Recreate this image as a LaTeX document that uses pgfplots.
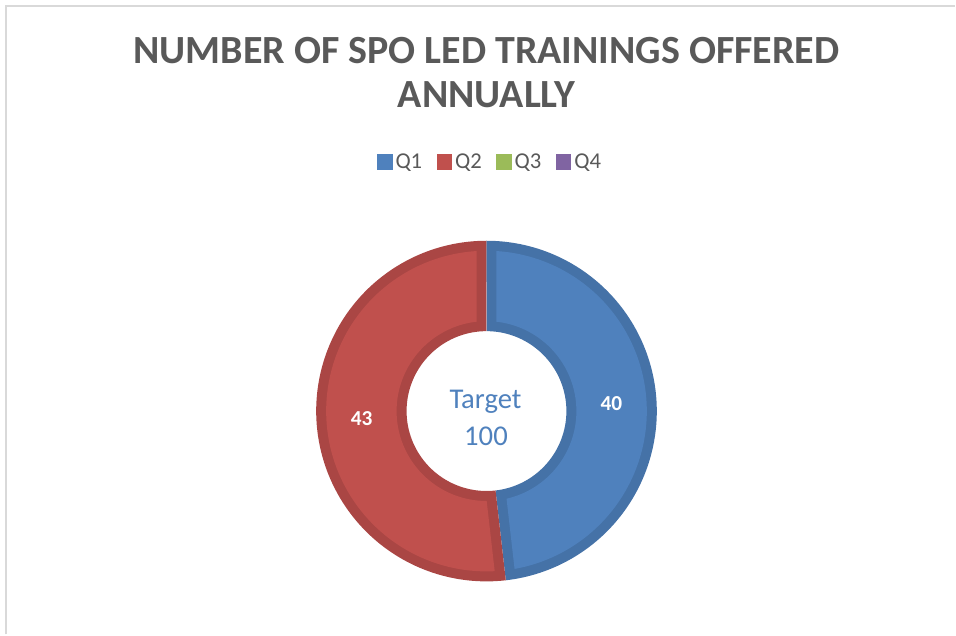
\documentclass[border=0pt]{standalone}
\usepackage{fontspec}
\setmainfont{Carlito}
\usepackage{pgfplots}
\usepackage{pgfplotstable}
\pgfplotsset{compat=1.18}
\usepgfplotslibrary{fillbetween}
\definecolor{textgrey}{HTML}{595959}
\definecolor{borderGrey}{HTML}{D9D9D9}
\definecolor{blueFill}{HTML}{4F81BD}
\definecolor{blueDark}{HTML}{4572A7}
\definecolor{redFill}{HTML}{C0504D}
\definecolor{redDark}{HTML}{AA4644}
\definecolor{greenFill}{HTML}{9BBB59}
\definecolor{purpleFill}{HTML}{8064A2}

\pgfplotstableread{
quarter value
Q1 40
Q2 43
Q3 0
Q4 0
}\datatable
\pgfplotstablegetelem{0}{value}\of\datatable \let\vA\pgfplotsretval
\pgfplotstablegetelem{1}{value}\of\datatable \let\vB\pgfplotsretval
\pgfplotstablegetelem{2}{value}\of\datatable \let\vC\pgfplotsretval
\pgfplotstablegetelem{3}{value}\of\datatable \let\vD\pgfplotsretval
\pgfmathsetmacro\total{\vA+\vB+\vC+\vD}
\pgfmathsetmacro\aM{90-360*(\vA/\total)}
\pgfmathsetmacro\aR{90-360*((\vA+\vB)/\total)}
\def\cx{487}
\def\cy{223.5}
\def\Ro{170.5}
\def\Ri{80}
\def\bw{10}
\pgfmathsetmacro\RoIn{\Ro-\bw}
\pgfmathsetmacro\RiIn{\Ri+\bw}
\pgfmathsetmacro\dO{asin(\bw/\RoIn)}
\pgfmathsetmacro\dI{asin(\bw/\RiIn)}
\pgfmathsetmacro\rMid{(\Ro+\Ri)/2}
\pgfmathsetmacro\mA{(90+\aM)/2}
\pgfmathsetmacro\mB{(\aM+\aR)/2}

\begin{document}
\begin{tikzpicture}
\begin{axis}[
  width=717pt, height=476.25pt, scale only axis,
  xmin=0, xmax=956, ymin=0, ymax=635,
  hide axis, clip=false,
  legend columns=4,
  legend style={at={(axis cs:491,473)}, anchor=center, draw=none, fill=none,
    font=\fontsize{17}{20}\selectfont, text=textgrey,
    /tikz/every odd column/.append style={column sep=0.5pt},
    /tikz/every even column/.append style={column sep=9pt}},
  legend image code/.code={\fill[#1] (0pt,-5.4pt) rectangle (10.8pt,5.4pt);},
]
% frame
\path (axis cs:0,0) rectangle (axis cs:956,635);
\draw[borderGrey, line width=1.5pt] (axis cs:6.5,0) -- (axis cs:6.5,628.5) -- (axis cs:956,628.5);

% Q1 slice
\addplot[draw=none, forget plot, name path=AO, domain=\aM:90, samples=120] ({\cx+\Ro*cos(x)},{\cy+\Ro*sin(x)});
\addplot[draw=none, forget plot, name path=AI, domain=\aM:90, samples=80] ({\cx+\Ri*cos(x)},{\cy+\Ri*sin(x)});
\addplot[blueDark, forget plot] fill between[of=AO and AI];
\addplot[draw=none, forget plot, name path=AO2, domain=\aM+\dO:90-\dO, samples=120] ({\cx+\RoIn*cos(x)},{\cy+\RoIn*sin(x)});
\addplot[draw=none, forget plot, name path=AI2, domain=\aM+\dI:90-\dI, samples=80] ({\cx+\RiIn*cos(x)},{\cy+\RiIn*sin(x)});
\addplot[blueFill, forget plot] fill between[of=AO2 and AI2];

% Q2 slice
\addplot[draw=none, forget plot, name path=BO, domain=\aR:\aM, samples=120] ({\cx+\Ro*cos(x)},{\cy+\Ro*sin(x)});
\addplot[draw=none, forget plot, name path=BI, domain=\aR:\aM, samples=80] ({\cx+\Ri*cos(x)},{\cy+\Ri*sin(x)});
\addplot[redDark, forget plot] fill between[of=BO and BI];
\addplot[draw=none, forget plot, name path=BO2, domain=\aR+\dO:\aM-\dO, samples=120] ({\cx+\RoIn*cos(x)},{\cy+\RoIn*sin(x)});
\addplot[draw=none, forget plot, name path=BI2, domain=\aR+\dI:\aM-\dI, samples=80] ({\cx+\RiIn*cos(x)},{\cy+\RiIn*sin(x)});
\addplot[redFill, forget plot] fill between[of=BO2 and BI2];

% legend
\addlegendimage{blueFill}
\addlegendimage{redFill}
\addlegendimage{greenFill}
\addlegendimage{purpleFill}
\legend{Q1,Q2,Q3,Q4}

% value labels
\node[text=white, font=\fontsize{16}{19}\selectfont\bfseries] at (axis cs:{\cx+\rMid*cos(\mA)},{\cy+\rMid*sin(\mA)}) {\vA};
\node[text=white, font=\fontsize{16}{19}\selectfont\bfseries] at (axis cs:{\cx+\rMid*cos(\mB)},{\cy+\rMid*sin(\mB)}) {\vB};

% centre text
\node[anchor=base, text=blueFill, font=\fontsize{21.5}{26}\selectfont] at (axis cs:486,225.7) {Target};
\node[anchor=base, text=blueFill, font=\fontsize{21.5}{26}\selectfont] at (axis cs:486.5,189) {100};

% title
\node[anchor=base, text=textgrey, font=\fontsize{30}{36}\selectfont\bfseries] at (axis cs:487,571.7) {NUMBER OF SPO LED TRAININGS OFFERED};
\node[anchor=base, text=textgrey, font=\fontsize{30}{36}\selectfont\bfseries] at (axis cs:487,527) {ANNUALLY};
\end{axis}
\end{tikzpicture}
\end{document}
